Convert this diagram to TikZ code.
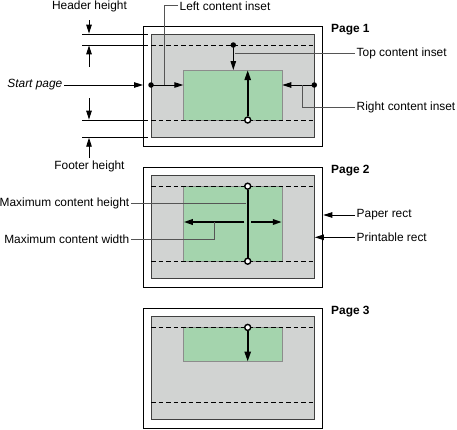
\documentclass[tikz,border=0pt]{standalone}
\usepackage{fontspec}
\setmainfont{Liberation Sans}
\usepackage{xcolor}
\usetikzlibrary{arrows.meta}
\usetikzlibrary{positioning}
\usetikzlibrary{calc}

\definecolor{printgray}{RGB}{209,211,210}
\definecolor{contentgreen}{RGB}{164,212,173}
\definecolor{leadergray}{RGB}{85,85,85}

\tikzset{
  paper/.style={draw=black, line width=1pt, fill=white},
  printable/.style={draw=black!75, line width=0.9pt, fill=printgray},
  margin/.style={draw=black, line width=0.9pt, dash pattern=on 4.5pt off 3pt},
  content/.style={draw=black!45, line width=0.7pt, fill=contentgreen},
  leader/.style={draw=leadergray, line width=0.9pt},
  arr/.style={-{Triangle[length=9pt,width=5.5pt]}, line width=0.9pt},
  bigarr/.style={-{Triangle[length=10pt,width=6pt]}, line width=2.2pt},
  dot/.style={circle, fill=black, inner sep=0pt, minimum size=5.5pt},
  odot/.style={circle, draw=black, fill=white, line width=1.4pt, inner sep=0pt, minimum size=6pt},
  lbl/.style={font=\fontsize{11.9}{13}\selectfont, inner sep=1.5pt},
  pagelbl/.style={font=\fontsize{11.9}{13}\selectfont\bfseries, inner sep=0pt, anchor=west}
}

\begin{document}
\begin{tikzpicture}[x=1pt,y=-1pt]
\useasboundingbox (0,0) rectangle (457,429);

% the three pages
\foreach \p in {0,1,2}{
\begin{scope}[shift={(0,141.2*\p)}]
\draw[paper] (143.3,26) rectangle (322.7,146);
\draw[printable] (151,34) rectangle (314.3,137.3);
\end{scope}
}

% page 1
\draw[content] (183.3,70) rectangle (282.3,120);
\foreach \y in {45,120}
  \draw[margin] (151,\y) -- (314.3,\y);
\node[pagelbl] (page1) at (331,30) {Page 1};

\coordinate (ctop1) at (233.3,70);
\coordinate (cleft1) at (183.3,85);
\coordinate (cright1) at (282.3,85);
\coordinate (cup1) at (247.7,70);
\draw[arr] (233.3,45) -- (ctop1);
\draw[arr] (151,85) -- (cleft1);
\draw[arr] (314.3,85) -- (cright1);
\node[dot] (tdot1) at (233.3,45) {};
\node[dot] (ldot1) at (151,85) {};
\node[dot] (rdot1) at (314.3,85) {};
\node[odot] (bdot1) at (247.7,120) {};
\draw[bigarr] (bdot1) -- (cup1);

\node[lbl, anchor=base west] (lci) at (178,10) {Left content inset};
\node[lbl, anchor=west] (tci) at (355,53.5) {Top content inset};
\node[lbl, anchor=west] (rci) at (355,107) {Right content inset};
\coordinate (lcifoot) at (164.3,85);
\coordinate (tcifoot) at (235,53.5);
\coordinate (rcifoot) at (302.7,85);
\draw[leader] (lci.west) -| (lcifoot);
\draw[leader] (tcifoot) -- (tci.west);
\draw[leader] (rci.west) -| (rcifoot);

% header and footer
\foreach \y in {34,45,120,137.3}
  \draw[line width=0.8pt] (82,\y) -- (148,\y);
\node[lbl, anchor=base] (hh) at (89.5,9) {Header height};
\node[lbl] (fh) at (89.5,166) {Footer height};
\draw[arr] (89,20) -- (89,33.6);
\draw[arr] (89,67) -- (89,45.4);
\draw[arr] (89,98) -- (89,119.6);
\draw[arr] (89,158) -- (89,137.7);

\node[lbl, anchor=east, font=\fontsize{11.9}{13}\selectfont\itshape] (sp) at (64,85) {Start page};
\coordinate (spend) at (143,85);
\draw[arr] (sp.east) -- (spend);

% page 2
\draw[content] (183.3,186.2) rectangle (282.3,261.2);
\foreach \y in {186.2,261.2}
  \draw[margin] (151,\y) -- (314.3,\y);
\node[pagelbl] (page2) at (331,171) {Page 2};

\coordinate (wleft2) at (183.8,222);
\coordinate (wright2) at (281.8,222);
\draw[arr, line width=1.8pt] (244.3,222) -- (wleft2);
\draw[arr, line width=1.8pt] (251.1,222) -- (wright2);
\node[odot] (hdot2) at (247.7,186.2) {};
\node[odot] (bdot2) at (247.7,261.2) {};
\draw[line width=2.2pt] (hdot2) -- (bdot2);

\node[lbl, anchor=east] (mch) at (131,203.3) {Maximum content height};
\node[lbl, anchor=east] (mcw) at (131,239.3) {Maximum content width};
\coordinate (mchfoot) at (246.3,203.3);
\coordinate (mcwfoot) at (214.3,222);
\draw[leader] (mch.east) -- (mchfoot);
\draw[leader] (mcw.east) -| (mcwfoot);

\node[lbl, anchor=west] (pr) at (355,215) {Paper rect};
\node[lbl, anchor=west] (prr) at (355,237.3) {Printable rect};
\coordinate (paperedge) at (323.3,215);
\coordinate (printedge) at (314.8,237.3);
\draw[arr] (pr.west) -- (paperedge);
\draw[arr] (prr.west) -- (printedge);

% page 3
\draw[content] (183.3,327.4) rectangle (282.3,361.7);
\foreach \y in {327.4,402.4}
  \draw[margin] (151,\y) -- (314.3,\y);
\node[pagelbl] (page3) at (331,312) {Page 3};

\coordinate (cdown3) at (247.7,361.7);
\node[odot] (tdot3) at (247.7,327.4) {};
\draw[bigarr] (tdot3) -- (cdown3);

\end{tikzpicture}
\end{document}
